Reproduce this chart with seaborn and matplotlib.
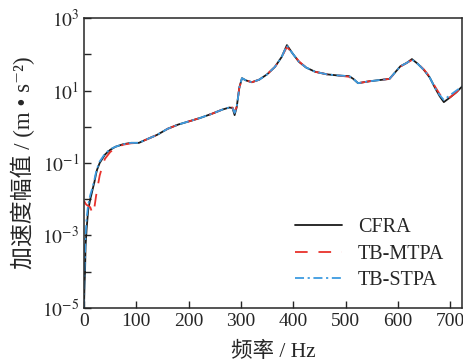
import numpy as np
import pandas as pd
import seaborn as sns
import matplotlib
matplotlib.use("Agg")
import matplotlib.pyplot as plt
from matplotlib.ticker import FixedLocator, NullFormatter

# frequency (Hz) and acceleration amplitude
freq = [0, 1, 2, 3, 5, 8, 12, 15, 17, 20, 23, 25, 30, 35, 40, 50, 60, 75, 90, 105,
        120, 140, 160, 180, 200, 222, 245, 265, 278, 284, 288, 292, 297, 302, 310,
        321, 335, 350, 365, 378, 388, 398, 411, 425, 442, 465, 487, 507, 515, 524,
        545, 565, 584, 595, 605, 617, 627, 638, 650, 661, 671, 680, 688, 700, 712, 723]

cfra = [1e-5, 4e-5, 1e-4, 5e-4, 1.5e-3, 5e-3, 1e-2, 1.5e-2, 2e-2, 3e-2, 5e-2, 6.5e-2, 0.1, 0.13, 0.17, 0.23, 0.28, 0.33, 0.36, 0.36,
        0.45, 0.6, 0.88, 1.15, 1.4, 1.75, 2.3, 3.0, 3.4, 3.3, 2.1, 3.5, 12, 22, 19,
        17, 20, 28, 45, 85, 180, 110, 62, 43, 33, 28, 26, 25, 21, 16,
        18, 19.5, 21, 32, 47, 58, 74, 55, 37, 23, 12, 7, 4.8, 6.5, 9, 13]

mtpa = [9e-3, 8.5e-3, 8e-3, 7.5e-3, 7e-3, 6.5e-3, 6e-3, 4.5e-3, 4e-3, 6e-3, 1.2e-2, 1.8e-2, 4.5e-2, 8e-2, 0.13, 0.2, 0.26, 0.32, 0.35, 0.36,
        0.45, 0.6, 0.88, 1.15, 1.4, 1.75, 2.3, 3.0, 3.4, 3.4, 2.5, 3.6, 12, 21, 19,
        17, 20, 28, 45, 85, 160, 110, 64, 43, 33, 28, 26, 24, 20, 16,
        18, 19.5, 21, 31, 46, 58, 70, 56, 38, 24, 13, 8, 5.5, 6.5, 9, 13]

stpa = [1e-5, 1e-4, 3e-4, 1e-3, 3e-3, 7e-3, 1.3e-2, 1.8e-2, 2.3e-2, 3.5e-2, 5.5e-2, 7e-2, 0.11, 0.14, 0.18, 0.24, 0.28, 0.33, 0.36, 0.36,
        0.45, 0.6, 0.88, 1.15, 1.4, 1.75, 2.3, 3.0, 3.4, 3.3, 2.4, 3.5, 12, 22, 19,
        17, 20, 28, 45, 85, 175, 110, 62, 43, 33, 28, 26, 25, 21, 16,
        18, 19.5, 21, 32, 47, 58, 72, 55, 37, 23, 12, 7.5, 5.5, 7.5, 10, 13]

methods = ["CFRA", "TB-MTPA", "TB-STPA"]

df = pd.DataFrame({
    "freq": freq * 3,
    "acc": cfra + mtpa + stpa,
    "method": [m for m in methods for _ in freq],
})

sns.set_theme(style="ticks")
plt.rcParams["font.family"] = ["Liberation Serif", "Noto Sans CJK SC", "DejaVu Serif"]
plt.rcParams["mathtext.fontset"] = "stix"

fig, ax = plt.subplots(figsize=(4.64, 3.63), dpi=100)
fig.subplots_adjust(left=0.181, right=0.996, bottom=0.152, top=0.950)

palette = {"CFRA": "#1a1a1a", "TB-MTPA": "#e8312b", "TB-STPA": "#3d9be0"}
dashes = {"CFRA": "", "TB-MTPA": (7, 6), "TB-STPA": (5, 2, 1.2, 2)}
sns.lineplot(data=df, x="freq", y="acc", hue="method", style="method",
             palette=palette, dashes=dashes, linewidth=1.3, ax=ax)

ax.set_yscale("log")
ax.set_xlim(0, 723)
ax.set_ylim(1e-5, 1e3)
ax.set_xticks([0, 100, 200, 300, 400, 500, 600, 700])
ax.yaxis.set_major_locator(FixedLocator([1e-5, 1e-3, 1e-1, 1e1, 1e3]))
ax.yaxis.set_minor_locator(FixedLocator([1e-4, 1e-2, 1e0, 1e2]))
ax.yaxis.set_minor_formatter(NullFormatter())
ax.set_yticklabels(["$10^{-5}$", "$10^{-3}$", "$10^{-1}$", "$10^{1}$", "$10^{3}$"])
ax.tick_params(axis="both", which="both", direction="in", length=5, width=1,
               labelsize=14, top=False, right=False)
for s in ax.spines.values():
    s.set_linewidth(1.1)

ax.set_xlabel("频率 / Hz", fontsize=15.5, labelpad=9)
ax.set_ylabel("加速度幅值 / (m • s⁻²)", fontsize=16.5, labelpad=5)

leg = ax.legend(loc="lower right", frameon=False, fontsize=14.5, handlelength=2.3,
                labelspacing=0.35, bbox_to_anchor=(1.0, 0.0))

fig.savefig("out.png", dpi=100)
